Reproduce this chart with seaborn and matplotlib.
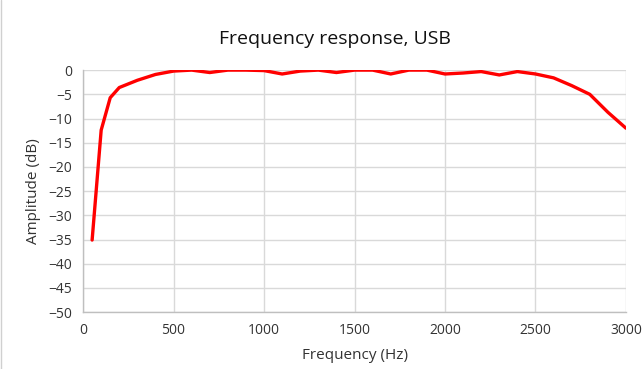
import numpy as np
import pandas as pd
import matplotlib.pyplot as plt
import matplotlib.lines as mlines
import seaborn as sns

freq_hz = [50, 100, 150, 200, 300, 400, 500, 600, 700, 800, 900, 1000,
           1100, 1200, 1300, 1400, 1500, 1600, 1700, 1800, 1900, 2000,
           2100, 2200, 2300, 2400, 2500, 2600, 2700, 2800, 2900, 3000]
amplitude_db = [-35.1, -12.4, -5.7, -3.6, -2.1, -0.9, -0.2, 0.0, -0.5, 0.0, 0.0, -0.1,
                -0.8, -0.2, 0.0, -0.5, 0.0, 0.0, -0.8, 0.0, 0.0, -0.8,
                -0.6, -0.3, -1.0, -0.3, -0.8, -1.6, -3.2, -5.0, -8.7, -12.0]

df = pd.DataFrame({'Frequency (Hz)': freq_hz, 'Amplitude (dB)': amplitude_db})

sns.set_style('white')
plt.rcParams['font.family'] = ['Open Sans', 'DejaVu Sans']

fig = plt.figure(figsize=(6.44, 3.69), dpi=100)
ax = fig.add_axes([0.129, 0.154, 0.843, 0.656])

sns.lineplot(data=df, x='Frequency (Hz)', y='Amplitude (dB)', ax=ax,
             color='#ff0000', linewidth=2.4)

ax.set_xlim(0, 3000)
ax.set_ylim(-50, 0)
ax.set_xticks(range(0, 3001, 500))
ax.set_yticks(range(-50, 1, 5))
ax.grid(True, color='#d9d9d9', linewidth=1.0)
ax.set_axisbelow(True)
for side in ['top', 'right']:
    ax.spines[side].set_visible(False)
for side in ['left', 'bottom']:
    ax.spines[side].set_color('#bfbfbf')
    ax.spines[side].set_linewidth(1.0)
ax.tick_params(length=0, labelsize=10, labelcolor='#333333', pad=8)
ax.set_xlabel('Frequency (Hz)', fontsize=11, color='#333333', labelpad=7)
ax.set_ylabel('Amplitude (dB)', fontsize=11, color='#333333', labelpad=5)
fig.suptitle('Frequency response, USB', fontsize=14, color='#111111', x=0.52, y=0.918)

# thin frame line at the left edge
fig.add_artist(mlines.Line2D([0.002, 0.002], [0, 1], color='#d0d0d0', linewidth=1))

fig.savefig('out.png', dpi=100)
